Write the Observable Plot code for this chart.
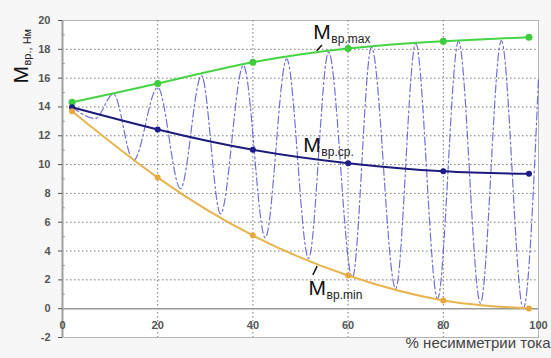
<!DOCTYPE html>
<html><head><meta charset="utf-8">
<script src="https://cdn.jsdelivr.net/npm/d3@7"></script>
<script src="https://cdn.jsdelivr.net/npm/@observablehq/plot@0.6"></script>
<style>
html,body{margin:0;padding:0;background:#f7f7f7;}
</style></head><body><div id="chart"></div>
<script>
// Envelope curves (markers)
const envX = [2, 20, 40, 60, 80, 98];
const mMax = [14.33, 15.63, 17.1, 18.06, 18.56, 18.84];
const mAvg = [13.98, 12.44, 11.03, 10.1, 9.54, 9.36];
const mMin = [13.7, 9.1, 5.08, 2.3, 0.57, 0.02];
// Oscillating instantaneous torque (extrema)
const waveX = [2, 6.9, 10.7, 14.9, 20.0, 24.8, 29.2, 33.2, 38.0, 42.6, 47.1, 51.7, 55.9, 60.9, 64.9, 70.0, 74.2, 78.8, 83.2, 87.8, 92.2, 96.8, 100];
const waveY = [14.0, 13.2, 14.9, 10.28, 15.35, 8.34, 16.18, 6.58, 16.88, 4.92, 17.34, 3.48, 17.8, 2.16, 18.15, 1.39, 18.42, 0.69, 18.56, 0.38, 18.6, 0.0, 16.0];
// Ticks
const xTicks = [0, 20, 40, 60, 80, 100];
const yTicks = [-2, 0, 2, 4, 6, 8, 10, 12, 14, 16, 18, 20];
const gridX = [20, 40, 60, 80];
const gridY = [2, 4, 6, 8, 10, 12, 14, 16, 18];
const minorY = [1, 3, 5, 7, 9, 11, 13, 15, 17, 19];
// Curve labels
const labelMain = ["M", "M", "M"];
const labelSub = ["вр.max", "вр.ср.", "вр.min"];
const labelX = [52.7, 50.6, 51.7];
const labelY = [18.75, 10.84, 0.92];
// Leader strokes
const leadX1 = [53.4, 52.6];
const leadY1 = [17.9, 2.35];
const leadX2 = [54.5, 53.5];
const leadY2 = [18.3, 2.95];
const xTitle = "% несимметрии тока";
const yTitleMain = "M";
const yTitleSub = "вр., Нм";

const env = envX.map((x, i) => ({x, max: mMax[i], avg: mAvg[i], min: mMin[i]}));
const wave = waveX.map((x, i) => ({x, y: waveY[i]}));
const labels = labelMain.map((m, i) => ({m, s: labelSub[i], x: labelX[i], y: labelY[i]}));
const leads = leadX1.map((x1, i) => ({x1, y1: leadY1[i], x2: leadX2[i], y2: leadY2[i]}));

const chart = Plot.plot({
  width: 551,
  height: 358,
  marginLeft: 62,
  marginRight: 13,
  marginTop: 20,
  marginBottom: 21,
  style: {fontFamily: "'Liberation Sans', Arial, sans-serif", background: "#f7f7f7"},
  x: {domain: [0, 100], axis: null},
  y: {domain: [-2, 20], axis: null},
  marks: [
    Plot.frame({fill: "white", stroke: "#b5b5b5"}),
    Plot.ruleY(gridY, {stroke: "#777", strokeDasharray: "1.5,2.5", strokeWidth: 1}),
    Plot.ruleX(gridX, {stroke: "#777", strokeDasharray: "1.5,2.5", strokeWidth: 1}),
    Plot.ruleY([0], {stroke: "#999", strokeWidth: 1.5}),
    Plot.ruleX([0], {stroke: "#a0a0a0", strokeWidth: 2}),
    Plot.ruleY(minorY, {x1: 0, x2: 0.6, stroke: "#999"}),
    Plot.axisY({ticks: yTicks, tickFormat: d => String(d), tickSize: 4, tickPadding: 8, fontSize: 11, fontWeight: "bold", color: "#555", label: null}),
    Plot.text(xTicks, {x: d => d, y: -1.15, text: d => String(d), fontSize: 11, fontWeight: "bold", fill: "#555"}),
    Plot.line(wave, {x: "x", y: "y", curve: "monotone-x", stroke: "#5858d2", strokeWidth: 1.2, strokeDasharray: "8,3,2,3", strokeOpacity: 0.85}),
    Plot.line(env, {x: "x", y: "max", curve: "natural", stroke: "#44d444", strokeWidth: 2}),
    Plot.line(env, {x: "x", y: "avg", curve: "natural", stroke: "#1c1c7c", strokeWidth: 2}),
    Plot.line(env, {x: "x", y: "min", curve: "natural", stroke: "#e8b450", strokeWidth: 2}),
    Plot.dot(env, {x: "x", y: "max", r: 3.5, fill: "#3ccc3c"}),
    Plot.dot(env, {x: "x", y: "avg", r: 3, fill: "#1c1c8c"}),
    Plot.dot(env, {x: "x", y: "min", r: 3, fill: "#e8a83c"}),
    Plot.link(leads, {x1: "x1", y1: "y1", x2: "x2", y2: "y2", stroke: "#111", strokeWidth: 1.5}),
    Plot.text(labels, {x: "x", y: "y", text: "m", textAnchor: "start", lineAnchor: "bottom", fontSize: 21, fill: "#111"}),
    Plot.text(labels, {x: "x", y: "y", text: "s", textAnchor: "start", lineAnchor: "bottom", dx: 18, dy: 4, fontSize: 12, fill: "#222"}),
    Plot.text([yTitleMain], {text: d => d, frameAnchor: "top-left", dx: -35, dy: 63, rotate: -90, textAnchor: "start", lineAnchor: "bottom", fontSize: 21, fill: "#111"}),
    Plot.text([yTitleSub], {text: d => d, frameAnchor: "top-left", dx: -32, dy: 45, rotate: -90, textAnchor: "start", lineAnchor: "bottom", fontSize: 11, fill: "#222"}),
    Plot.text([xTitle], {text: d => d, frameAnchor: "bottom-right", dx: 12, dy: 10, textAnchor: "end", fontSize: 15, fill: "#444"})
  ]
});
document.getElementById("chart").appendChild(chart);
</script>
</body></html>
